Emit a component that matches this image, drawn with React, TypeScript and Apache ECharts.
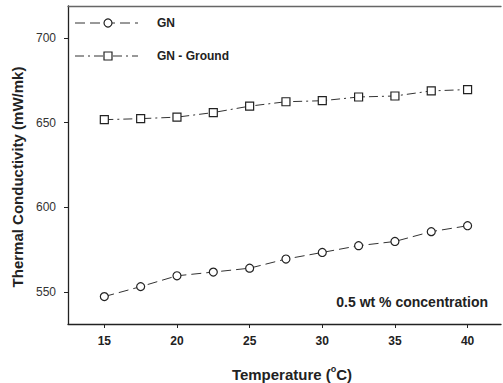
import React, { useEffect, useRef } from "react";
import * as echarts from "echarts";

const temperatures = [15, 17.5, 20, 22.5, 25, 27.5, 30, 32.5, 35, 37.5, 40];
const gnValues = [547.2, 553.1, 559.5, 561.7, 564.0, 569.4, 573.3, 577.3, 579.8, 585.6, 589.1];
const gnGroundValues = [651.8, 652.4, 653.3, 656.0, 659.8, 662.4, 663.0, 665.2, 665.8, 668.8, 669.6];
const xTicks = [15, 20, 25, 30, 35, 40];
const yTicks = [550, 600, 650, 700];
const seriesNames = ["GN", "GN - Ground"];

const FONT = "'Liberation Sans', Arial, sans-serif";
const INK = "#222";

export default function App() {
  const ref = useRef<HTMLDivElement>(null);
  useEffect(() => {
    if (!ref.current) return;
    const chart = echarts.init(ref.current, undefined, { renderer: "svg" });
    const dashDot = [9, 4, 2, 4];
    const dash = [10, 5];
    chart.setOption({
      animation: false,
      backgroundColor: "#fff",
      grid: { left: 68, right: 2, top: 6, bottom: 59 },
      xAxis: [
        {
          type: "value",
          min: 12.5,
          max: 42.3,
          axisLine: { show: true, lineStyle: { color: INK, width: 1.3 } },
          axisTick: { show: true, inside: false, length: 4, customValues: xTicks, lineStyle: { color: INK } },
          axisLabel: {
            customValues: xTicks,
            color: INK,
            fontFamily: FONT,
            fontSize: 12,
            fontWeight: "bold",
            margin: 11,
          },
          splitLine: { show: false },
        },
        {
          type: "value",
          position: "top",
          min: 12.5,
          max: 42.3,
          axisLine: { show: true, lineStyle: { color: "#666", width: 1.3 } },
          axisTick: { show: false },
          axisLabel: { show: false },
          splitLine: { show: false },
        },
      ],
      yAxis: {
        type: "value",
        min: 531,
        max: 719,
        axisLine: { show: true, lineStyle: { color: INK, width: 1.3 } },
        axisTick: { show: true, length: 4, customValues: yTicks, lineStyle: { color: INK } },
        axisLabel: {
          customValues: yTicks,
          color: "#333",
          fontFamily: FONT,
          fontSize: 12,
          margin: 12,
        },
        splitLine: { show: false },
      },
      series: [
        {
          name: seriesNames[0],
          type: "line",
          data: temperatures.map((t, i) => [t, gnValues[i]]),
          symbol: "circle",
          symbolSize: 8,
          itemStyle: { color: "#fff", borderColor: INK, borderWidth: 1.2 },
          lineStyle: { color: "#333", width: 1, type: dash },
        },
        {
          name: seriesNames[1],
          type: "line",
          data: temperatures.map((t, i) => [t, gnGroundValues[i]]),
          symbol: "rect",
          symbolSize: 8,
          itemStyle: { color: "#fff", borderColor: INK, borderWidth: 1.2 },
          lineStyle: { color: "#333", width: 1, type: dashDot },
        },
      ],
      graphic: [
        { type: "line", shape: { x1: 75, y1: 23, x2: 138, y2: 23 }, style: { stroke: "#333", lineWidth: 1, lineDash: dash } },
        { type: "circle", shape: { cx: 108, cy: 23, r: 4 }, style: { fill: "#fff", stroke: INK, lineWidth: 1.2 } },
        { type: "text", x: 157, y: 23, style: { text: seriesNames[0], font: `bold 12px ${FONT}`, fill: INK, verticalAlign: "middle" } },
        { type: "line", shape: { x1: 75, y1: 56, x2: 138, y2: 56 }, style: { stroke: "#333", lineWidth: 1, lineDash: dashDot } },
        { type: "rect", shape: { x: 104, y: 52, width: 8, height: 8 }, style: { fill: "#fff", stroke: INK, lineWidth: 1.2 } },
        { type: "text", x: 157, y: 56, style: { text: seriesNames[1], font: `bold 12px ${FONT}`, fill: INK, verticalAlign: "middle" } },
        { type: "text", x: 488, y: 302, style: { text: "0.5 wt % concentration", font: `bold 14px ${FONT}`, fill: INK, align: "right", verticalAlign: "middle" } },
        {
          type: "text",
          x: 17,
          y: 177,
          rotation: Math.PI / 2,
          style: {
            text: "Thermal Conductivity (mW/mk)",
            font: `bold 15px ${FONT}`,
            fill: INK,
            align: "center",
            verticalAlign: "middle",
          },
        },
        {
          type: "text",
          x: 292,
          y: 374,
          style: {
            text: "{a|Temperature (}{sup|o}{a|C)}",
            align: "center",
            verticalAlign: "middle",
            rich: {
              a: { font: `bold 15px ${FONT}`, fill: INK },
              sup: { font: `bold 9px ${FONT}`, fill: INK, verticalAlign: "top", padding: [0, 0, 10, 0] },
            },
          },
        },
      ],
    });
    return () => chart.dispose();
  }, []);
  return <div ref={ref} style={{ position: "fixed", left: 0, top: 0, width: 503, height: 383 }} />;
}
